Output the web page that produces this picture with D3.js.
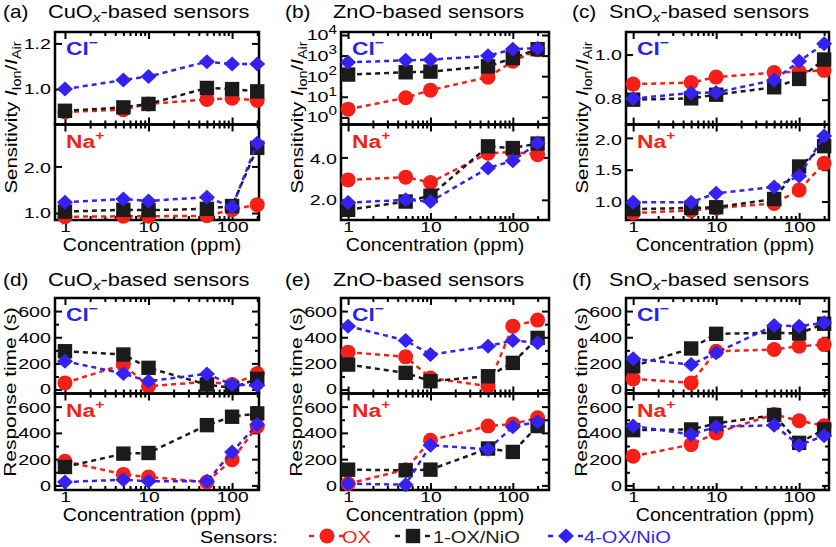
<!DOCTYPE html>
<html>
<head>
<meta charset="utf-8">
<script src="https://cdn.jsdelivr.net/npm/d3@7"></script>
<style>
body { margin: 0; background: #fff; }
svg { display: block; }
</style>
</head>
<body>
<svg id="chart" width="836" height="547"></svg>
<script>
// x values (ppm) and the three sensors
const conc = [1, 5, 10, 50, 100, 200];
const sensors = ["OX", "1-OX/NiO", "4-OX/NiO"];
const colors = ["#f61f17", "#1b1b1b", "#3522f0"];
const shapes = ["circle", "square", "diamond"];

// rows: OX, 1-OX/NiO, 4-OX/NiO
const cuSensCl = [[0.90, 0.91, 0.935, 0.955, 0.96, 0.95], [0.905, 0.92, 0.935, 1.005, 1.0, 0.99], [1.0, 1.04, 1.055, 1.12, 1.11, 1.11]];
const cuSensNa = [[0.92, 0.93, 0.93, 0.94, 1.07, 1.18], [1.03, 1.07, 1.06, 1.09, 1.15, 2.40], [1.23, 1.30, 1.26, 1.34, 1.13, 2.50]];
const znSensCl = [[2.5, 9, 21, 90, 530, 1900], [120, 155, 167, 300, 760, 2050], [470, 590, 630, 980, 2050, 2300]];
const znSensNa = [[2.94, 3.07, 2.82, 4.2, 4.25, 4.13], [1.53, 1.92, 2.19, 4.52, 4.44, 4.65], [1.87, 2.0, 1.92, 3.5, 3.84, 4.68]];
const snSensCl = [[0.869, 0.876, 0.90, 0.92, 0.924, 0.93], [0.80, 0.806, 0.822, 0.855, 0.892, 0.978], [0.805, 0.83, 0.832, 0.887, 0.97, 1.048]];
const snSensNa = [[0.82, 0.86, 0.90, 0.97, 1.18, 1.6], [0.88, 0.90, 0.91, 1.04, 1.55, 1.87], [0.99, 0.99, 1.13, 1.23, 1.40, 2.03]];

const cuTimeCl = [[51, 191, 26, 60, 38, 122], [293, 268, 166, 38, 13, 82], [217, 122, 64, 120, 38, 31]];
const cuTimeNa = [[184, 84, 64, 26, 196, 450], [140, 242, 247, 459, 523, 548], [26, 43, 31, 31, 255, 464]];
const znTimeCl = [[286, 250, 89, 26, 485, 531], [191, 128, 64, 102, 204, 395], [485, 375, 268, 332, 375, 357]];
const znTimeNa = [[13, 120, 344, 452, 467, 515], [120, 115, 120, 281, 255, 452], [13, 5, 306, 275, 446, 485]];
const snTimeCl = [[82, 51, 293, 306, 332, 344], [179, 314, 426, 434, 429, 503], [235, 191, 281, 490, 485, 510]];
const snTimeNa = [[222, 311, 400, 541, 492, 454], [421, 426, 472, 536, 324, 426], [452, 388, 446, 459, 306, 378]];

const xMajor = [1, 10, 100];
const xMinor = [2, 3, 4, 5, 6, 7, 8, 9, 20, 30, 40, 50, 60, 70, 80, 90, 200];
const timeMajor = [0, 200, 400, 600];
const timeMinor = [100, 300, 500];

const FONT = "'Liberation Sans', Arial, Helvetica, sans-serif";
const SX = 1.2;
const TX = 1.27; // stretch for y tick labels
const svg = d3.select("#chart");

const cols = [
  {x0: 55, x1: 259, dom: [0.76, 210], tagX: 3, titleX: 48, concX: 152},
  {x0: 341, x1: 549, dom: [0.82, 275], tagX: 285, titleX: 333, concX: 435},
  {x0: 626, x1: 829, dom: [0.82, 229], tagX: 572, titleX: 609, concX: 725}
];
const rows = [
  {top: 32, mid: 124.5, bot: 220, titleY: 18},
  {top: 298, mid: 393.5, bot: 490, titleY: 286}
];

const f1 = d3.format(".1f");
const fd = d3.format("d");
const panels = [
  {col: 0, row: 0, tag: "(a)", title: ["CuO", "x"], up: cuSensCl, lo: cuSensNa,
   yUp: {dom: [0.845, 1.25], ticks: [1.0, 1.2], fmt: f1}, yLo: {dom: [0.85, 2.9], ticks: [1.0, 2.0], fmt: f1}},
  {col: 1, row: 0, tag: "(b)", title: ["ZnO", ""], up: znSensCl, lo: znSensNa,
   yUp: {dom: [0.45, 14000], ticks: [1, 10, 100, 1000, 10000], log: true}, yLo: {dom: [1.05, 5.55], ticks: [2.0, 4.0], fmt: f1}},
  {col: 2, row: 0, tag: "(c)", title: ["SnO", "x"], up: snSensCl, lo: snSensNa,
   yUp: {dom: [0.69, 1.10], ticks: [0.8, 1.0], fmt: f1}, yLo: {dom: [0.71, 2.21], ticks: [1.0, 1.5, 2.0], fmt: f1}},
  {col: 0, row: 1, tag: "(d)", title: ["CuO", "x"], up: cuTimeCl, lo: cuTimeNa,
   yUp: {dom: [-30, 700], ticks: timeMajor, minor: timeMinor, fmt: fd}, yLo: {dom: [-35, 700], ticks: timeMajor, minor: timeMinor, fmt: fd}},
  {col: 1, row: 1, tag: "(e)", title: ["ZnO", ""], up: znTimeCl, lo: znTimeNa,
   yUp: {dom: [-30, 700], ticks: timeMajor, minor: timeMinor, fmt: fd}, yLo: {dom: [-35, 700], ticks: timeMajor, minor: timeMinor, fmt: fd}},
  {col: 2, row: 1, tag: "(f)", title: ["SnO", "x"], up: snTimeCl, lo: snTimeNa,
   yUp: {dom: [-30, 700], ticks: timeMajor, minor: timeMinor, fmt: fd}, yLo: {dom: [-35, 700], ticks: timeMajor, minor: timeMinor, fmt: fd}}
];

function addText(x, y, o = {}) {
  return svg.append("text")
    .attr("transform", `translate(${x},${y})` + (o.rotate ? ` rotate(${o.rotate})` : "") + ` scale(${o.sx || SX},1)`)
    .attr("font-family", FONT)
    .attr("font-size", o.size || 17)
    .attr("font-weight", o.bold ? "bold" : null)
    .attr("fill", o.fill || "#000")
    .attr("text-anchor", o.anchor || "start");
}

function styleAxis(g) {
  g.select(".domain").remove();
  g.attr("font-family", FONT).attr("font-size", 15.5);
  g.selectAll(".tick line").attr("stroke", "#000").attr("stroke-width", 2);
  g.selectAll(".tick text").attr("fill", "#000");
  return g;
}

function marker(g, shape, cx, cy, color) {
  if (shape == "circle") {
    g.append("circle").attr("cx", cx).attr("cy", cy).attr("r", 7.5).attr("fill", color);
  } else if (shape == "square") {
    g.append("rect").attr("x", cx - 7.2).attr("y", cy - 7.2).attr("width", 14.4).attr("height", 14.4).attr("fill", color);
  } else {
    g.append("path").attr("d", `M${cx},${cy - 7.5}L${cx + 8},${cy}L${cx},${cy + 7.5}L${cx - 8},${cy}Z`).attr("fill", color);
  }
}

function drawSub(c, yT, yB, data, spec, ion, ionColor, isLower) {
  const x = d3.scaleLog().domain(c.dom).range([c.x0, c.x1]);
  const y = (spec.log ? d3.scaleLog() : d3.scaleLinear()).domain(spec.dom).range([yB, yT]);
  const g = svg.append("g");

  // y ticks, left labelled, right mirrored
  const left = g.append("g").attr("transform", `translate(${c.x0},0)`)
    .call(d3.axisLeft(y).tickValues(spec.ticks).tickSize(-7).tickPadding(0)
      .tickFormat(spec.log ? () => "10" : spec.fmt));
  styleAxis(left);
  const lo = d3.min(spec.ticks), hi = d3.max(spec.ticks);
  left.selectAll(".tick text").attr("transform", `scale(${TX},1)`).attr("x", -4 / TX)
    .attr("dy", d => (!isLower && d == lo) ? "0.26em" : (isLower && d == hi) ? "0.4em" : "0.32em");
  if (spec.log) {
    left.selectAll(".tick text").append("tspan").attr("dy", "-0.55em").attr("font-size", 12)
      .text(d => Math.round(Math.log10(d)));
  }
  styleAxis(g.append("g").attr("transform", `translate(${c.x1},0)`)
    .call(d3.axisRight(y).tickValues(spec.ticks).tickSize(-7).tickFormat("")));
  if (spec.minor) {
    styleAxis(g.append("g").attr("transform", `translate(${c.x0},0)`)
      .call(d3.axisLeft(y).tickValues(spec.minor).tickSize(-4).tickFormat("")));
    styleAxis(g.append("g").attr("transform", `translate(${c.x1},0)`)
      .call(d3.axisRight(y).tickValues(spec.minor).tickSize(-4).tickFormat("")));
  }

  // x ticks top and bottom (inward)
  styleAxis(g.append("g").attr("transform", `translate(0,${yT})`)
    .call(d3.axisTop(x).tickValues(xMajor).tickSize(-7).tickFormat("")));
  styleAxis(g.append("g").attr("transform", `translate(0,${yT})`)
    .call(d3.axisTop(x).tickValues(xMinor).tickSize(-4).tickFormat("")));
  const bot = g.append("g").attr("transform", `translate(0,${yB})`)
    .call(d3.axisBottom(x).tickValues(xMajor).tickSize(-7).tickPadding(0)
      .tickFormat(isLower ? fd : ""));
  styleAxis(bot);
  bot.selectAll(".tick text").attr("transform", `scale(1.24,1)`)
    .attr("dy", null).attr("y", 12.3);
  styleAxis(g.append("g").attr("transform", `translate(0,${yB})`)
    .call(d3.axisBottom(x).tickValues(xMinor).tickSize(-4).tickFormat("")));

  g.append("rect").attr("x", c.x0).attr("y", yT).attr("width", c.x1 - c.x0).attr("height", yB - yT)
    .attr("fill", "none").attr("stroke", "#000").attr("stroke-width", 2.5);

  // ion label
  const t = addText(c.x0 + 11, yT + 23, {bold: true, size: 19, fill: ionColor, sx: 1.2});
  t.append("tspan").text(ion[0]);
  t.append("tspan").attr("dy", -8).attr("font-size", 13).text(ion[1]);

  // series
  const line = d3.line().x((d, i) => x(conc[i])).y(d => y(d));
  data.forEach((vals, s) => {
    g.append("path").datum(vals).attr("d", line).attr("fill", "none")
      .attr("stroke", colors[s]).attr("stroke-width", 2.5).attr("stroke-dasharray", "5,4");
    vals.forEach((v, i) => marker(g, shapes[s], x(conc[i]), y(v), colors[s]));
  });
}

panels.forEach(p => {
  const c = cols[p.col], r = rows[p.row];
  addText(c.tagX, r.titleY, {size: 18, sx: 1.15}).text(p.tag);
  const tt = addText(c.titleX, r.titleY, {size: 18, sx: 1.21});
  tt.append("tspan").text(p.title[0]);
  if (p.title[1]) {
    tt.append("tspan").attr("font-style", "italic").attr("font-size", 13).attr("dy", 4).text(p.title[1]);
    tt.append("tspan").attr("dy", -4).text("-based sensors");
  } else {
    tt.append("tspan").text("-based sensors");
  }

  drawSub(c, r.top, r.mid, p.up, p.yUp, ["Cl", "\u2212"], "#2a22e6", false);
  drawSub(c, r.mid, r.bot, p.lo, p.yLo, ["Na", "+"], "#f61f17", true);

  // axis titles
  addText(c.concX, r.bot + 30.5, {anchor: "middle", size: 17.5, sx: 1.12}).text("Concentration (ppm)");
  if (p.row == 0) {
    const yl = addText(c.x0 - 38, r.mid - 7, {rotate: -90, anchor: "middle", sx: 1.2});
    yl.append("tspan").text("Sensitivity ");
    yl.append("tspan").attr("font-style", "italic").text("I");
    yl.append("tspan").attr("font-size", 12).attr("dy", 4).text("Ion");
    yl.append("tspan").attr("dy", -4).text("/");
    yl.append("tspan").attr("font-style", "italic").text("I");
    yl.append("tspan").attr("font-size", 12).attr("dy", 4).text("Air");
  } else {
    addText(c.x0 - 39, r.mid - 1.5, {rotate: -90, anchor: "middle", sx: 1.23}).text("Response time (s)");
  }
});

// legend
const legX = [327, 413, 566];
const legTextX = [342, 433, 584];
const legY = 536;
addText(200, 543, {size: 17, sx: 1.16}).text("Sensors:");
sensors.forEach((name, s) => {
  const lg = svg.append("g");
  [[-18, -13], [12, 17]].forEach(seg => {
    lg.append("line").attr("x1", legX[s] + seg[0]).attr("x2", legX[s] + seg[1])
      .attr("y1", legY).attr("y2", legY).attr("stroke", colors[s]).attr("stroke-width", 2.5);
  });
  marker(lg, shapes[s], legX[s], legY, colors[s]);
  addText(legTextX[s], 543, {size: 17, sx: 1.18, fill: colors[s]}).text(name);
});
</script>
</body>
</html>
